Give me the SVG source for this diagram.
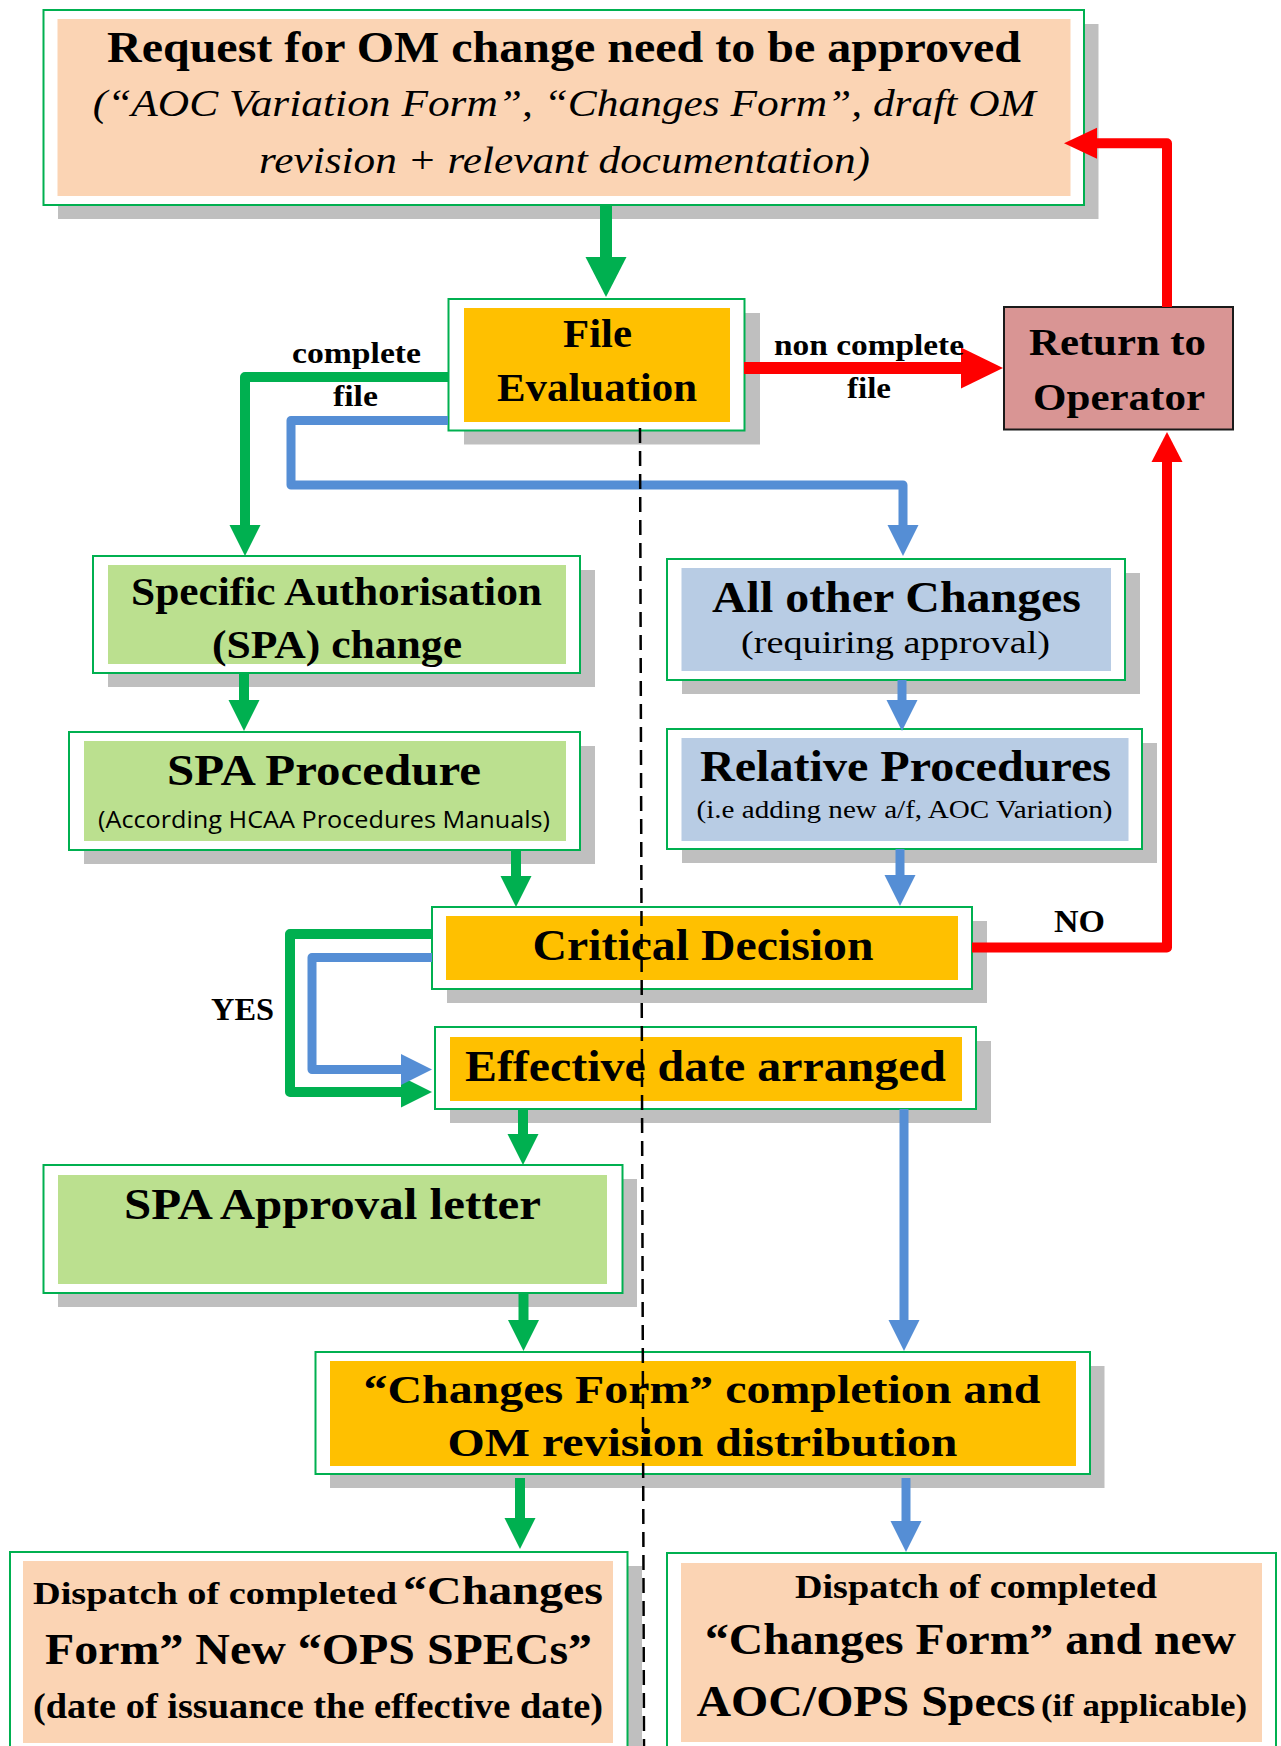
<svg xmlns="http://www.w3.org/2000/svg" width="1281" height="1746" viewBox="0 0 1281 1746">
<style>
.frame{fill:#FFFFFF;stroke:#00B050;stroke-width:2}
.shadow{fill:#BFBFBF}
.peach{fill:#FBD4B4}
.gold{fill:#FFC000}
.lg{fill:#BBE08F}
.lb{fill:#B8CCE4}
.rose{fill:#D99594;stroke:#1A1A1A;stroke-width:2}
text{font-family:"Liberation Serif","Times New Roman",serif;fill:#000000}
.b{font-weight:bold}
.i{font-style:italic}
.sans{font-family:"Open Sans","Liberation Sans",sans-serif}
#connectors path{fill:none;stroke-linejoin:round}
.g{stroke:#00B050;stroke-width:10}
.bl{stroke:#558ED5;stroke-width:9}
.r{stroke:#FF0000;stroke-width:10}
.dash{stroke:#000000;stroke-width:2.5;stroke-dasharray:15 8;fill:none}
</style>
<defs>
<marker id="hg" markerUnits="userSpaceOnUse" viewBox="0 -16 32 32" refX="0" refY="0" markerWidth="32" markerHeight="32" orient="auto"><path d="M0,-15.5 L31,0 L0,15.5 Z" fill="#00B050"/></marker>
<marker id="hb" markerUnits="userSpaceOnUse" viewBox="0 -16 32 32" refX="0" refY="0" markerWidth="32" markerHeight="32" orient="auto"><path d="M0,-15.5 L31,0 L0,15.5 Z" fill="#558ED5"/></marker>
<marker id="hr" markerUnits="userSpaceOnUse" viewBox="0 -16 34 32" refX="0" refY="0" markerWidth="34" markerHeight="32" orient="auto"><path d="M0,-15.5 L30,0 L0,15.5 Z" fill="#FF0000"/></marker>
<marker id="hr2" markerUnits="userSpaceOnUse" viewBox="0 -16 34 32" refX="0" refY="0" markerWidth="34" markerHeight="32" orient="auto"><path d="M0,-15.5 L33,0 L0,15.5 Z" fill="#FF0000"/></marker>
<marker id="hgbig" markerUnits="userSpaceOnUse" viewBox="0 -21 42 42" refX="0" refY="0" markerWidth="42" markerHeight="42" orient="auto"><path d="M0,-20.5 L40,0 L0,20.5 Z" fill="#00B050"/></marker>
<marker id="hrbig" markerUnits="userSpaceOnUse" viewBox="0 -21 43 42" refX="0" refY="0" markerWidth="43" markerHeight="42" orient="auto"><path d="M0,-20.5 L42,0 L0,20.5 Z" fill="#FF0000"/></marker>
</defs>
<rect width="1281" height="1746" fill="#FFFFFF"/>

<g id="request">
<rect class="shadow" x="58" y="24" width="1040.5" height="195"/>
<rect class="frame" x="43.5" y="10" width="1040.5" height="195"/>
<rect class="peach" x="57.5" y="19" width="1013" height="177"/>
<text class="b" x="107" y="62" font-size="45" textLength="914" lengthAdjust="spacingAndGlyphs">Request for OM change need to be approved</text>
<text class="i" x="92.7" y="116" font-size="37" textLength="943" lengthAdjust="spacingAndGlyphs">(“AOC Variation Form”, “Changes Form”, draft OM</text>
<text class="i" x="259" y="173" font-size="37" textLength="611" lengthAdjust="spacingAndGlyphs">revision + relevant documentation)</text>
</g>

<g id="file-evaluation">
<rect class="shadow" x="464" y="313" width="296" height="131.5"/>
<rect class="frame" x="448.5" y="299" width="296" height="131.5"/>
<rect class="gold" x="464" y="308" width="266" height="114"/>
<text class="b" x="563" y="347" font-size="40" textLength="69" lengthAdjust="spacingAndGlyphs">File</text>
<text class="b" x="497" y="401" font-size="40" textLength="200" lengthAdjust="spacingAndGlyphs">Evaluation</text>
</g>

<g id="return-to-operator">
<rect class="rose" x="1004" y="307" width="229" height="122.5"/>
<text class="b" x="1029" y="355" font-size="37" textLength="177" lengthAdjust="spacingAndGlyphs">Return to</text>
<text class="b" x="1033" y="410" font-size="37" textLength="172" lengthAdjust="spacingAndGlyphs">Operator</text>
</g>

<g id="spa-change">
<rect class="shadow" x="108" y="570" width="487" height="117"/>
<rect class="frame" x="93" y="556" width="487" height="117"/>
<rect class="lg" x="108" y="565" width="458" height="99"/>
<text class="b" x="131" y="605" font-size="40" textLength="411" lengthAdjust="spacingAndGlyphs">Specific Authorisation</text>
<text class="b" x="212" y="658" font-size="40" textLength="250" lengthAdjust="spacingAndGlyphs">(SPA) change</text>
</g>

<g id="all-other-changes">
<rect class="shadow" x="682" y="573" width="458" height="121"/>
<rect class="frame" x="667" y="559" width="458" height="121"/>
<rect class="lb" x="681.5" y="568" width="429.5" height="103"/>
<text class="b" x="712" y="612" font-size="45" textLength="369" lengthAdjust="spacingAndGlyphs">All other Changes</text>
<text x="741" y="653" font-size="32" textLength="309" lengthAdjust="spacingAndGlyphs">(requiring approval)</text>
</g>

<g id="spa-procedure">
<rect class="shadow" x="84" y="746" width="511" height="118"/>
<rect class="frame" x="69" y="732" width="511" height="118"/>
<rect class="lg" x="84" y="741" width="482" height="100"/>
<text class="b" x="167" y="785" font-size="45" textLength="314" lengthAdjust="spacingAndGlyphs">SPA Procedure</text>
<text class="sans" x="98" y="828" font-size="23" textLength="452" lengthAdjust="spacingAndGlyphs">(According HCAA Procedures Manuals)</text>
</g>

<g id="relative-procedures">
<rect class="shadow" x="682" y="743" width="475" height="120"/>
<rect class="frame" x="667" y="729" width="475" height="120"/>
<rect class="lb" x="681.5" y="738" width="447" height="103"/>
<text class="b" x="700" y="781" font-size="44" textLength="411" lengthAdjust="spacingAndGlyphs">Relative Procedures</text>
<text x="696.5" y="818" font-size="25" textLength="416" lengthAdjust="spacingAndGlyphs">(i.e adding new a/f, AOC Variation)</text>
</g>

<g id="critical-decision">
<rect class="shadow" x="447" y="921" width="540" height="82"/>
<rect class="frame" x="432" y="907" width="540" height="82"/>
<rect class="gold" x="446" y="916" width="512" height="64"/>
<text class="b" x="532.5" y="960" font-size="45" textLength="341" lengthAdjust="spacingAndGlyphs">Critical Decision</text>
</g>

<g id="effective-date">
<rect class="shadow" x="450" y="1041" width="541" height="82"/>
<rect class="frame" x="435" y="1027" width="541" height="82"/>
<rect class="gold" x="450" y="1037" width="512" height="64"/>
<text class="b" x="465" y="1081" font-size="44" textLength="481" lengthAdjust="spacingAndGlyphs">Effective date arranged</text>
</g>

<g id="spa-approval-letter">
<rect class="shadow" x="58" y="1179" width="579" height="128"/>
<rect class="frame" x="43.5" y="1165" width="579" height="128"/>
<rect class="lg" x="58" y="1175" width="549" height="109"/>
<text class="b" x="124" y="1219" font-size="45" textLength="417" lengthAdjust="spacingAndGlyphs">SPA Approval letter</text>
</g>

<g id="changes-form">
<rect class="shadow" x="330" y="1366" width="774.5" height="122"/>
<rect class="frame" x="315.5" y="1352" width="774.5" height="122"/>
<rect class="gold" x="330" y="1361" width="746" height="105"/>
<text class="b" x="363.5" y="1403" font-size="40" textLength="677" lengthAdjust="spacingAndGlyphs">“Changes Form” completion and</text>
<text class="b" x="447.5" y="1456" font-size="40" textLength="510" lengthAdjust="spacingAndGlyphs">OM revision distribution</text>
</g>

<g id="dispatch-spa">
<rect class="shadow" x="24.5" y="1566" width="617.5" height="220"/>
<rect class="frame" x="10" y="1552" width="617.5" height="220"/>
<rect class="peach" x="23" y="1561" width="590" height="182"/>
<text class="b" y="1604"><tspan x="33" font-size="31" textLength="364" lengthAdjust="spacingAndGlyphs">Dispatch of completed</tspan><tspan x="403" font-size="41" textLength="200" lengthAdjust="spacingAndGlyphs">“Changes</tspan></text>
<text class="b" x="45" y="1664" font-size="45" textLength="547" lengthAdjust="spacingAndGlyphs">Form” New “OPS SPECs”</text>
<text class="b" x="33" y="1718" font-size="36" textLength="570" lengthAdjust="spacingAndGlyphs">(date of issuance the effective date)</text>
</g>

<g id="dispatch-other">
<rect class="frame" x="667" y="1553" width="609" height="220"/>
<rect class="peach" x="681" y="1563" width="581" height="179"/>
<text class="b" x="795" y="1598" font-size="33" textLength="362" lengthAdjust="spacingAndGlyphs">Dispatch of completed</text>
<text class="b" x="705" y="1654" font-size="44" textLength="531" lengthAdjust="spacingAndGlyphs">“Changes Form” and new</text>
<text class="b" y="1716"><tspan x="696.5" font-size="44" textLength="339" lengthAdjust="spacingAndGlyphs">AOC/OPS Specs</tspan><tspan x="1041" font-size="32" textLength="206" lengthAdjust="spacingAndGlyphs">(if applicable)</tspan></text>
</g>

<g id="connectors">
<path class="g" d="M606,205 V257" style="stroke-width:12" marker-end="url(#hgbig)"/>
<path class="r" d="M744,368 H961" style="stroke-width:12" marker-end="url(#hrbig)"/>
<path class="r" d="M1167,307 V143.3 H1097" marker-end="url(#hr2)"/>
<path class="r" d="M972,947.5 H1167 V462" marker-end="url(#hr)"/>
<path class="g" d="M448,377 H245 V525" marker-end="url(#hg)"/>
<path class="bl" d="M448,420.5 H291 V485 H903 V525" marker-end="url(#hb)"/>
<path class="g" d="M244,673 V700" marker-end="url(#hg)"/>
<path class="bl" d="M902,680 V700" marker-end="url(#hb)"/>
<path class="g" d="M516,850 V876" marker-end="url(#hg)"/>
<path class="bl" d="M900,849 V875" marker-end="url(#hb)"/>
<path class="g" d="M432,934 H290 V1092 H401" marker-end="url(#hg)"/>
<path class="bl" d="M432,957.5 H312 V1069.5 H401" marker-end="url(#hb)"/>
<path class="g" d="M523,1109 V1134" marker-end="url(#hg)"/>
<path class="bl" d="M904,1109 V1320" marker-end="url(#hb)"/>
<path class="g" d="M523.5,1293 V1320" marker-end="url(#hg)"/>
<path class="g" d="M520,1478 V1518" marker-end="url(#hg)"/>
<path class="bl" d="M906,1478 V1521" marker-end="url(#hb)"/>
<text class="b" x="774" y="355" font-size="30" textLength="190" lengthAdjust="spacingAndGlyphs">non complete</text>
<text class="b" x="847" y="398" font-size="30" textLength="44" lengthAdjust="spacingAndGlyphs">file</text>
<text class="b" x="292" y="363" font-size="30" textLength="129" lengthAdjust="spacingAndGlyphs">complete</text>
<text class="b" x="333" y="406" font-size="30" textLength="45" lengthAdjust="spacingAndGlyphs">file</text>
<text class="b" x="1054" y="932" font-size="32" textLength="51" lengthAdjust="spacingAndGlyphs">NO</text>
<text class="b" x="211" y="1020" font-size="31" textLength="63" lengthAdjust="spacingAndGlyphs">YES</text>
</g>

<path id="divider" class="dash" d="M640,428 L644,1746"/>
</svg>
